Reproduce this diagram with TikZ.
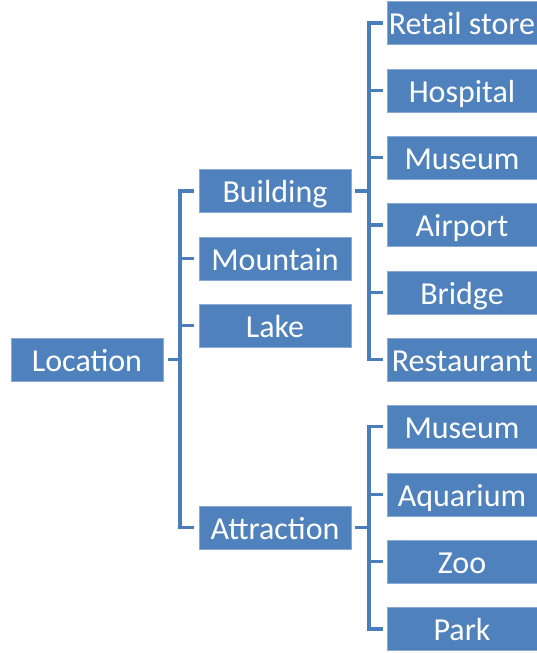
\documentclass[tikz,border=0pt]{standalone}
\usepackage{fontspec}
\setmainfont{Carlito}
\definecolor{boxblue}{HTML}{4F81BD}
\definecolor{boxedge}{HTML}{8AAAD6}
\definecolor{linkblue}{HTML}{4A7EBB}
\begin{document}
\begin{tikzpicture}[x=1pt,y=-1pt,
  cat/.style={rectangle, fill=boxblue, draw=boxedge, line width=0.8pt, inner sep=0pt,
    minimum height=43pt, text height=25pt, text depth=2pt,
    text=white, font=\fontsize{32}{34}\selectfont},
  wbox/.style={cat, minimum width=152pt},
  nbox/.style={cat, minimum width=150pt},
  link/.style={draw=linkblue, line width=3.6pt}]
\useasboundingbox (0,0) rectangle (537,653);
\begin{scope}
\clip (0,0) rectangle (537,653);
% level 1
\node[wbox] (loc) at (87,359.5) {Location};
% level 2
\node[wbox] (bld) at (275,191) {Building};
\node[wbox] (mtn) at (275,258.5) {Mountain};
\node[wbox] (lake) at (275,325.5) {Lake};
\node[wbox] (attr) at (275,527.5) {Attraction};
% level 3 building
\node[nbox] (ret) at (462,23) {Retail store};
\node[nbox] (hosp) at (462,90.5) {Hospital};
\node[nbox] (mus) at (462,157.5) {Museum};
\node[nbox] (air) at (462,225) {Airport};
\node[nbox] (brg) at (462,292.5) {Bridge};
\node[nbox] (rest) at (462,359.5) {Restaurant};
% level 3 attraction
\node[nbox] (mus2) at (462,426.5) {Museum};
\node[nbox] (aqua) at (462,494.5) {Aquarium};
\node[nbox] (zoo) at (462,561.5) {Zoo};
\node[nbox] (park) at (462,629) {Park};
\end{scope}
% connectors: Location tree
\coordinate (t1) at (180,0);
\draw[link] ([xshift=4.5pt]loc.east) -- (loc.east -| t1);
\draw[link] ([xshift=-4.5pt]bld.west) -- (bld.west -| t1) -- (attr.west -| t1) -- ([xshift=-4.5pt]attr.west);
\draw[link] (mtn.west -| t1) -- ([xshift=-4.5pt]mtn.west);
\draw[link] (lake.west -| t1) -- ([xshift=-4.5pt]lake.west);
% Building tree
\coordinate (t2) at (369,0);
\draw[link] ([xshift=4pt]bld.east) -- (bld.east -| t2);
\draw[link] ([xshift=-4pt]ret.west) -- (ret.west -| t2) -- (rest.west -| t2) -- ([xshift=-4pt]rest.west);
\foreach \n in {hosp,mus,air,brg}
  \draw[link] (\n.west -| t2) -- ([xshift=-4pt]\n.west);
% Attraction tree
\draw[link] ([xshift=4pt]attr.east) -- (attr.east -| t2);
\draw[link] ([xshift=-4pt]mus2.west) -- (mus2.west -| t2) -- (park.west -| t2) -- ([xshift=-4pt]park.west);
\foreach \n in {aqua,zoo}
  \draw[link] (\n.west -| t2) -- ([xshift=-4pt]\n.west);
\end{tikzpicture}
\end{document}
